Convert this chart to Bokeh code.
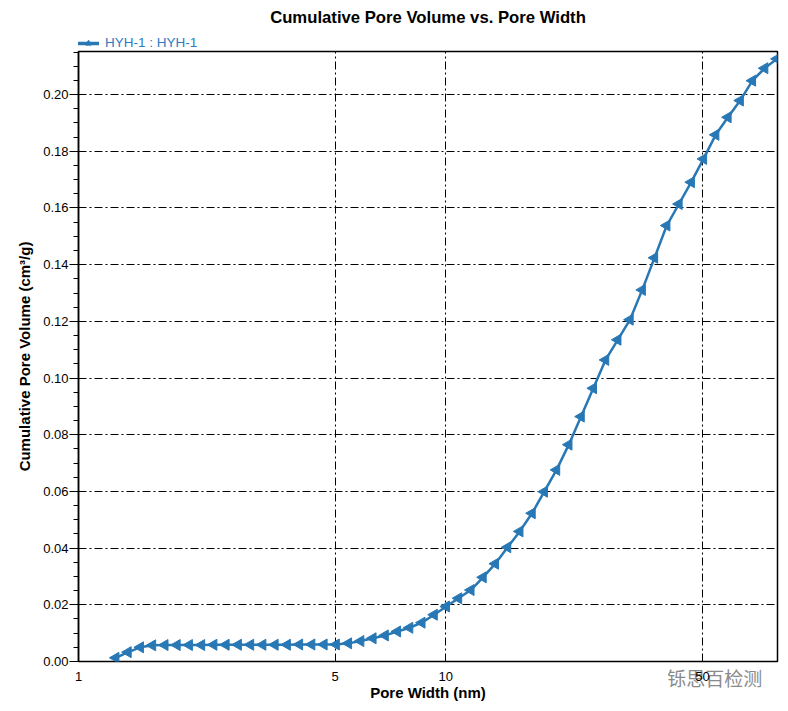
import numpy as np
from bokeh.plotting import figure
from bokeh.layouts import column
from bokeh.models import (Range1d, FixedTicker, SingleIntervalTicker, NumeralTickFormatter,
                          Legend, LegendItem, LogAxis)
from bokeh.core.properties import value
from bokeh.embed import file_html
from bokeh.resources import INLINE

# Pore width (nm) and cumulative pore volume (cm3/g)
pore_width_nm = [1.263, 1.364, 1.473, 1.590, 1.718, 1.854, 2.002, 2.162, 2.334, 2.520,
                 2.721, 2.939, 3.173, 3.426, 3.700, 3.995, 4.313, 4.658, 5.029, 5.430,
                 5.864, 6.331, 6.836, 7.382, 7.970, 8.606, 9.294, 10.03, 10.83, 11.70,
                 12.63, 13.64, 14.73, 15.90, 17.17, 18.54, 20.02, 21.62, 23.35, 25.21,
                 27.22, 29.39, 31.73, 34.26, 37.00, 39.95, 43.13, 46.58, 50.29, 54.30,
                 58.64, 63.31, 68.36, 73.82, 79.70]
cum_pore_volume = [0.0013, 0.0033, 0.0050, 0.0057, 0.0058, 0.0058, 0.0058, 0.0058, 0.0059, 0.0059,
                   0.0059, 0.0059, 0.0059, 0.0059, 0.0059, 0.0060, 0.0060, 0.0060, 0.0060, 0.0064,
                   0.0072, 0.0082, 0.0092, 0.0106, 0.0119, 0.0137, 0.0165, 0.0194, 0.0223, 0.0252,
                   0.0297, 0.0345, 0.0403, 0.0459, 0.0523, 0.0599, 0.0676, 0.0765, 0.0864, 0.0964,
                   0.1064, 0.1135, 0.1206, 0.1311, 0.1424, 0.1538, 0.1614, 0.1691, 0.1773, 0.1858,
                   0.1920, 0.1979, 0.2049, 0.2093, 0.2126]
x_ticks = [1, 5, 10, 50]
series_label = "HYH-1 : HYH-1"
title_text = "Cumulative Pore Volume vs. Pore Width"
x_label = "Pore Width (nm)"
y_label = "Cumulative Pore Volume (cm\u00b3/g)"
watermark = "铄思百检测"
watermark_at = 54   # pore width under the centre of the watermark

BLUE = "#2878b5"
FONT = "Liberation Sans"
TOP_H = 50
FRAME_W = 699

# ---------- header strip: title + legend (its frame lines up with the chart frame) ----------
top = figure(width=788, height=TOP_H, x_range=Range1d(0, FRAME_W), y_range=Range1d(0, TOP_H),
             output_backend="svg", toolbar_location=None, title_location=None,
             min_border=0)
top.axis.visible = False
top.grid.visible = False
top.outline_line_color = None
top.border_fill_color = "white"
top.background_fill_color = "white"
top.text(x=[FRAME_W / 2], y=[TOP_H - 17], text=[title_text], text_align="center",
         text_baseline="middle", text_font=value(FONT), text_font_size="16.7px",
         text_font_style="bold", text_color="black")
# legend proxies (no visible data)
leg_line = top.line(x=[np.nan], y=[np.nan], line_color=BLUE, line_width=3.5)
leg_mark = top.scatter(x=[np.nan], y=[np.nan], marker="triangle", angle=np.pi / 2, size=11,
                       fill_color=BLUE, line_color=BLUE)
legend = Legend(items=[LegendItem(label=series_label, renderers=[leg_line, leg_mark])],
                location=(-1, 0), orientation="horizontal",
                border_line_color=None, background_fill_alpha=0,
                padding=0, margin=0, spacing=0,
                label_text_color="#2e7bc0", label_text_font=FONT, label_text_font_size="13.5px",
                glyph_width=22, glyph_height=14, label_height=14, label_standoff=6)
top.add_layout(legend, "center")

# ---------- main chart ----------
p = figure(width=788, height=711 - TOP_H, x_axis_type="log",
           x_range=Range1d(1, 80), y_range=Range1d(0, 0.2152),
           output_backend="svg", toolbar_location=None, title_location=None,
           min_border_left=78, min_border_right=11, min_border_top=1, min_border_bottom=50)
p.background_fill_color = "white"
p.border_fill_color = "white"
p.outline_line_color = "black"
p.outline_line_width = 1.5
p.outline_line_alpha = 1.0

p.line(pore_width_nm, cum_pore_volume, line_color=BLUE, line_width=2.5)
p.scatter(pore_width_nm, cum_pore_volume, marker="triangle", angle=np.pi / 2,
          size=11, fill_color=BLUE, line_color=BLUE)

# y axis
p.yaxis.ticker = SingleIntervalTicker(interval=0.02, num_minor_ticks=4)
p.yaxis.formatter = NumeralTickFormatter(format="0.00")
p.yaxis.major_tick_out = 9
p.yaxis.minor_tick_out = 5
p.yaxis.major_tick_in = 0
p.yaxis.minor_tick_in = 0
p.yaxis.major_label_standoff = 1
p.yaxis.axis_label = y_label
p.yaxis.axis_label_standoff = 7
p.yaxis.axis_line_color = "black"
p.yaxis.axis_line_width = 1.5

# watermark carried by an extra, line-less axis right under the frame
wm_axis = LogAxis(ticker=FixedTicker(ticks=[watermark_at], minor_ticks=[]),
                  major_label_overrides={watermark_at: watermark},
                  axis_line_color=None, major_tick_line_color=None, minor_tick_line_color=None,
                  major_tick_out=0, major_tick_in=0, minor_tick_out=0, minor_tick_in=0,
                  major_label_standoff=2, major_label_text_font="Noto Sans CJK SC",
                  major_label_text_font_size="19px", major_label_text_color="#8a8a8a")

# main x axis (tick labels pulled back up next to the frame)
xax = p.xaxis[0]
xax.ticker = FixedTicker(ticks=x_ticks, minor_ticks=[])
xax.formatter = NumeralTickFormatter(format="0")
xax.axis_line_color = None
xax.major_tick_out = 0
xax.major_tick_in = 0
xax.minor_tick_out = 0
xax.minor_tick_in = 0
xax.major_label_standoff = -22
xax.axis_label = x_label
xax.axis_label_standoff = 0
p.below = [wm_axis] + list(p.below)

for ax in (xax, p.yaxis[0]):
    ax.major_tick_line_color = "black"
    ax.minor_tick_line_color = "black"
    ax.major_label_text_font = FONT
    ax.major_label_text_font_size = "13px"
    ax.major_label_text_color = "black"
    ax.axis_label_text_font = FONT
    ax.axis_label_text_font_size = "15px"
    ax.axis_label_text_font_style = "bold"
    ax.axis_label_text_color = "black"

# grids
p.xgrid.ticker = FixedTicker(ticks=x_ticks, minor_ticks=[])
p.ygrid.ticker = SingleIntervalTicker(interval=0.02, num_minor_ticks=4)
for g in (p.xgrid, p.ygrid):
    g.grid_line_color = "black"
    g.grid_line_width = 1
    g.grid_line_dash = "8 3 2 3"
    g.grid_line_alpha = 1.0

layout = column(top, p, spacing=0)
open("out.html", "w").write(file_html(layout, INLINE))
